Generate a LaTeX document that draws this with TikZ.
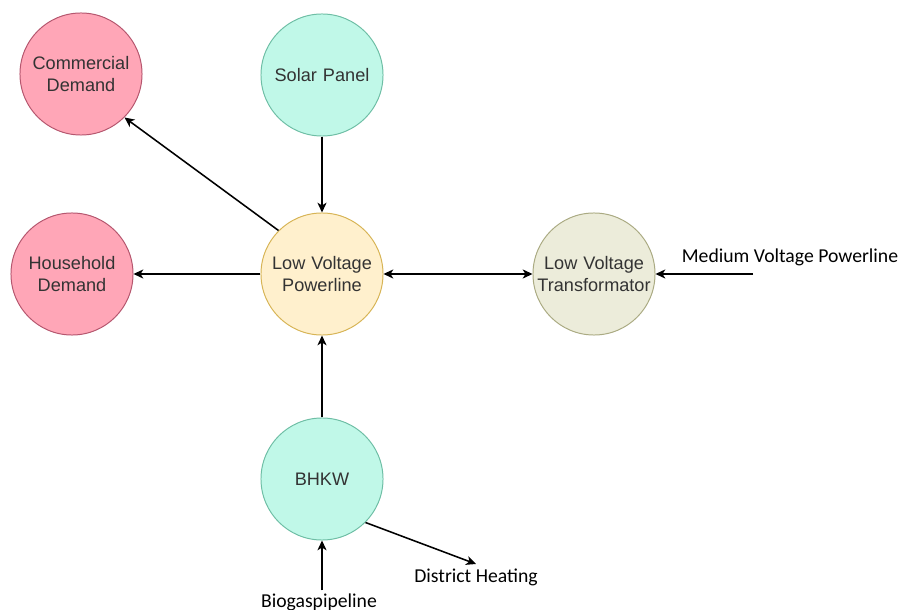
\documentclass[tikz,border=0pt]{standalone}
\usepackage{fontspec}
\setmainfont{Liberation Sans}
\newfontfamily\labelfont{Carlito}
\usepackage{tikz}
\usetikzlibrary{shapes.geometric, arrows.meta}
\definecolor{demandfill}{RGB}{255,166,183}
\definecolor{demanddraw}{RGB}{181,86,110}
\definecolor{sourcefill}{RGB}{192,248,232}
\definecolor{sourcedraw}{RGB}{110,190,165}
\definecolor{linefill}{RGB}{255,240,205}
\definecolor{linedraw}{RGB}{215,180,85}
\definecolor{trafofill}{RGB}{236,236,218}
\definecolor{trafodraw}{RGB}{170,170,130}
\tikzstyle{demand} = [circle, minimum size=3.05cm, inner sep=0pt, text centered, text width=2.9cm, draw=demanddraw, line width=0.7pt, fill=demandfill, text=black!80, font=\fontsize{12.9}{15}\selectfont]
\tikzstyle{source} = [demand, draw=sourcedraw, fill=sourcefill]
\tikzstyle{powerline} = [demand, draw=linedraw, fill=linefill]
\tikzstyle{trafo} = [demand, draw=trafodraw, fill=trafofill]
\tikzstyle{extlabel} = [inner sep=0pt, font=\labelfont\fontsize{14}{16}\selectfont]
\tikzstyle{arrow} = [line width=1.1pt,->,>={Stealth[length=7pt,width=6.5pt,inset=2pt]}]

\begin{document}
\begin{tikzpicture}[x=0.025cm, y=-0.025cm]
  \useasboundingbox (0,0) rectangle (903,610);
  \node (lvp) [powerline] at (322,274) {Low Voltage\\Powerline};
  \node (solar) [source] at (322,75) {Solar Panel};
  \node (com) [demand] at (81,74) {Commercial\\Demand};
  \node (house) [demand] at (72,274) {Household\\Demand};
  \node (trafo) [trafo] at (594,274) {Low Voltage\\Transformator};
  \node (bhkw) [source] at (322,479) {BHKW};
  \node (mvp) [extlabel] at (790,257) {Medium Voltage Powerline};
  \coordinate (mvpin) at (753,274);
  \node (heat) [extlabel] at (476,577) {District Heating};
  \node (bio) [extlabel] at (319,602) {Biogaspipeline};
  \draw [arrow] (solar) -- (lvp);
  \draw [arrow] (lvp.135) -- (com.-45);
  \draw [arrow] (lvp) -- (house);
  \draw [arrow, <->] (lvp) -- (trafo);
  \draw [arrow] (mvpin) -- (trafo);
  \draw [arrow] (bhkw) -- (lvp);
  \draw [arrow] (bhkw.-45) -- ([yshift=3pt]heat.north);
  \draw [arrow] ([yshift=2pt]bio.north -| bhkw) -- (bhkw);
\end{tikzpicture}
\end{document}
